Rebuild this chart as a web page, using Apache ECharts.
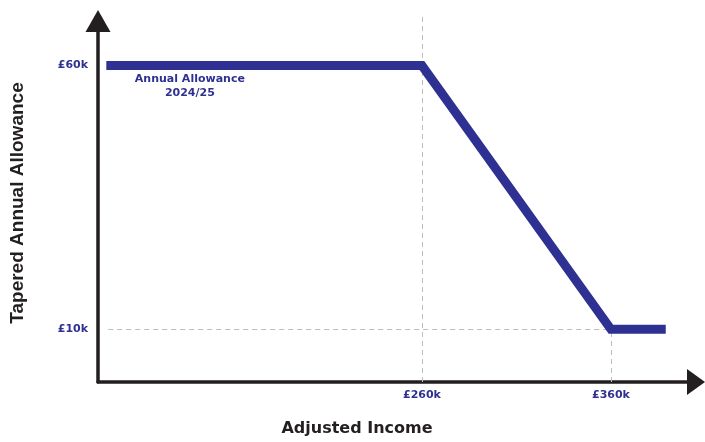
<!DOCTYPE html>
<html>
<head>
<meta charset="utf-8">
<title>Tapered Annual Allowance</title>
<script src="https://cdn.jsdelivr.net/npm/echarts@6/dist/echarts.min.js"></script>
<style>
  html, body { margin: 0; padding: 0; background: #fff; }
</style>
</head>
<body>
<div id="main" style="width:705px;height:442px;"></div>
<script>
// income in £k (x), allowance in £k (y)
var income = [93, 260, 360, 389];
var allowance = [60, 60, 10, 10];
var xTicks = [260, 360];
var yTicks = [10, 60];
var labelText = 'Annual Allowance\n2024/25';

var blue = '#2e3192';
var ink = '#231f20';
var font = 'DejaVu Sans';

var lineData = income.map(function (v, i) { return [v, allowance[i]]; });

var chart = echarts.init(document.getElementById('main'));

var option = {
  animation: false,
  grid: { left: 98, right: 9, top: 16, bottom: 58 },
  xAxis: {
    type: 'value',
    min: 88.6,
    max: 405,
    name: 'Adjusted Income',
    nameLocation: 'middle',
    nameGap: 39,
    nameTextStyle: { color: ink, fontSize: 16, fontWeight: 'bold', fontFamily: font, padding: [0, 80, 0, 0] },
    axisLine: {
      lineStyle: { color: ink, width: 3.5 },
      symbol: ['none', 'triangle'],
      symbolSize: [26, 18]
    },
    axisTick: { show: false },
    splitLine: { show: false },
    axisLabel: {
      customValues: xTicks,
      formatter: '£{value}k',
      color: blue,
      fontSize: 11,
      fontWeight: 'bold',
      fontFamily: font,
      margin: 8
    }
  },
  yAxis: {
    type: 'value',
    min: 0,
    max: 69.4,
    name: 'Tapered Annual Allowance',
    nameLocation: 'middle',
    nameRotate: 90,
    nameGap: 71,
    nameTextStyle: { color: ink, fontSize: 19, fontWeight: 'bold', fontFamily: 'Liberation Sans', padding: [0, 8, 0, 0] },
    axisLine: {
      lineStyle: { color: ink, width: 3.5 },
      symbol: ['none', 'triangle'],
      symbolSize: [25, 22],
      symbolOffset: [0, -5]
    },
    axisTick: { show: false },
    splitLine: { show: false },
    axisLabel: {
      customValues: yTicks,
      formatter: '£{value}k',
      color: blue,
      fontSize: 11,
      fontWeight: 'bold',
      fontFamily: font,
      margin: 10
    }
  },
  series: [{
    type: 'line',
    data: lineData,
    showSymbol: false,
    lineStyle: { color: blue, width: 9, join: 'miter', cap: 'butt' },
    z: 3,
    markLine: {
      silent: true,
      symbol: ['none', 'none'],
      label: { show: false },
      lineStyle: { color: '#bdbdbd', width: 1, type: [5, 4] },
      z: 1,
      data: [
        [{ coord: [xTicks[0], 0] }, { coord: [xTicks[0], 69.4] }],
        [{ coord: [xTicks[1], 0] }, { coord: [xTicks[1], yTicks[0]] }],
        [{ coord: [94, yTicks[0]] }, { coord: [xTicks[1], yTicks[0]] }]
      ]
    },
    markPoint: {
      silent: true,
      symbol: 'circle',
      symbolSize: 0,
      data: [{ coord: [137.2, 60] }],
      label: {
        show: true,
        position: 'inside',
        offset: [0, 21],
        formatter: labelText,
        color: blue,
        fontSize: 11,
        fontWeight: 'bold',
        fontFamily: font,
        lineHeight: 14,
        align: 'center'
      }
    }
  }]
};

chart.setOption(option);
</script>
</body>
</html>
